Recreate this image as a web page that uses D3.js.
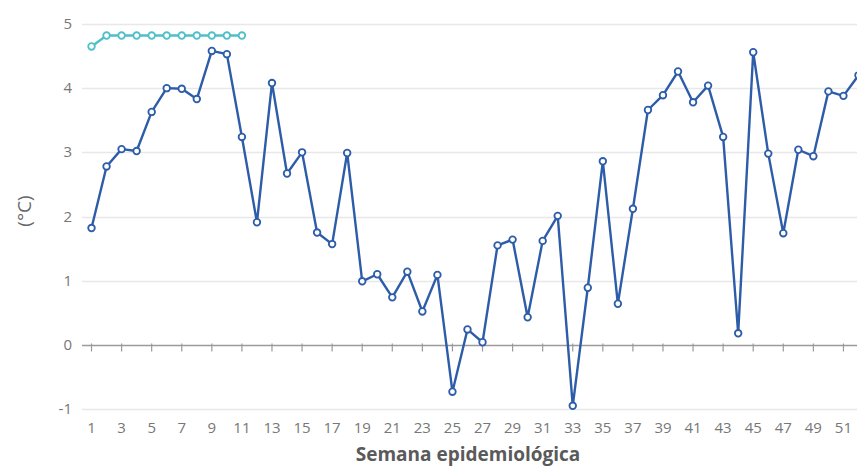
<!DOCTYPE html>
<html>
<head>
<meta charset="utf-8">
<script src="https://cdn.jsdelivr.net/npm/d3@7"></script>
<style>
  html, body { margin: 0; padding: 0; background: #fff; overflow: hidden; }
  svg { display: block; font-family: "Open Sans", "DejaVu Sans", sans-serif; }
</style>
</head>
<body>
<svg id="chart" width="857" height="469"></svg>
<script>
// Data
const weeks = d3.range(1, 53);
const seriesMain = [1.82, 2.78, 3.05, 3.02, 3.63, 4.0, 3.99, 3.83, 4.58, 4.53,
  3.24, 1.91, 4.08, 2.67, 3.0, 1.75, 1.57, 2.99, 0.99, 1.1,
  0.74, 1.14, 0.52, 1.09, -0.73, 0.24, 0.04, 1.55, 1.64, 0.43,
  1.62, 2.01, -0.95, 0.89, 2.86, 0.64, 2.12, 3.66, 3.89, 4.26,
  3.78, 4.04, 3.24, 0.18, 4.56, 2.98, 1.74, 3.04, 2.94, 3.95,
  3.88, 4.2];
const seriesRef = [4.65, 4.82, 4.82, 4.82, 4.82, 4.82, 4.82, 4.82, 4.82, 4.82, 4.82];
const yTicks = [-1, 0, 1, 2, 3, 4, 5];
const xTickLabels = d3.range(1, 53, 2);
const xTitle = "Semana epidemiológica";
const yTitle = "(°C)";

const svg = d3.select("#chart");
const plotLeft = 84, plotRight = 866, plotTop = 24, plotBottom = 409;

const x = d3.scaleBand().domain(weeks).range([plotLeft, plotRight]);
const xc = w => x(w) + x.bandwidth() / 2;
const y = d3.scaleLinear().domain([-1, 5]).range([plotBottom, plotTop]);

// Gridlines
svg.append("g").selectAll("line").data(yTicks.filter(t => t !== 0)).join("line")
  .attr("x1", plotLeft - 2).attr("x2", 857)
  .attr("y1", d => Math.round(y(d)) + 0.5).attr("y2", d => Math.round(y(d)) + 0.5)
  .attr("stroke", "#e8e8e8").attr("stroke-width", 1.5);

// Y labels
svg.append("g").selectAll("text").data(yTicks).join("text")
  .attr("x", 72).attr("y", d => y(d) + 5)
  .attr("text-anchor", "end").attr("font-size", 15).attr("fill", "#777")
  .text(d => d);

// X axis at zero
const y0 = Math.round(y(0)) + 0.5;
svg.append("line").attr("x1", plotLeft - 2).attr("x2", 857)
  .attr("y1", y0).attr("y2", y0).attr("stroke", "#9a9a9a").attr("stroke-width", 1.5);
svg.append("g").selectAll("line").data(xTickLabels).join("line")
  .attr("x1", d => xc(d)).attr("x2", d => xc(d))
  .attr("y1", y0 - 2).attr("y2", y0 + 6)
  .attr("stroke", "#9a9a9a").attr("stroke-width", 1.2);

// X labels
svg.append("g").selectAll("text").data(xTickLabels).join("text")
  .attr("x", d => xc(d)).attr("y", 433)
  .attr("text-anchor", "middle").attr("font-size", 15).attr("fill", "#777")
  .text(d => d);

// Titles
svg.append("text").attr("x", 468).attr("y", 461).attr("text-anchor", "middle")
  .attr("font-size", 19).attr("font-weight", "bold").attr("fill", "#5a5a5a").text(xTitle);
svg.append("text").attr("transform", "translate(31,211) rotate(-90)")
  .attr("text-anchor", "middle").attr("font-size", 19).attr("fill", "#666").text(yTitle);

// Series
function drawSeries(values, color) {
  const data = values.map((v, i) => ({ w: weeks[i], v }));
  const line = d3.line().x(d => xc(d.w)).y(d => y(d.v));
  svg.append("path").datum(data).attr("d", line)
    .attr("fill", "none").attr("stroke", color).attr("stroke-width", 2.4)
    .attr("stroke-linejoin", "round");
  svg.append("g").selectAll("circle").data(data).join("circle")
    .attr("cx", d => xc(d.w)).attr("cy", d => y(d.v)).attr("r", 3.3)
    .attr("fill", "#fff").attr("stroke", color).attr("stroke-width", 1.8);
}
drawSeries(seriesMain, "#2d5ca8");
drawSeries(seriesRef, "#4fbfc8");
</script>
</body>
</html>
